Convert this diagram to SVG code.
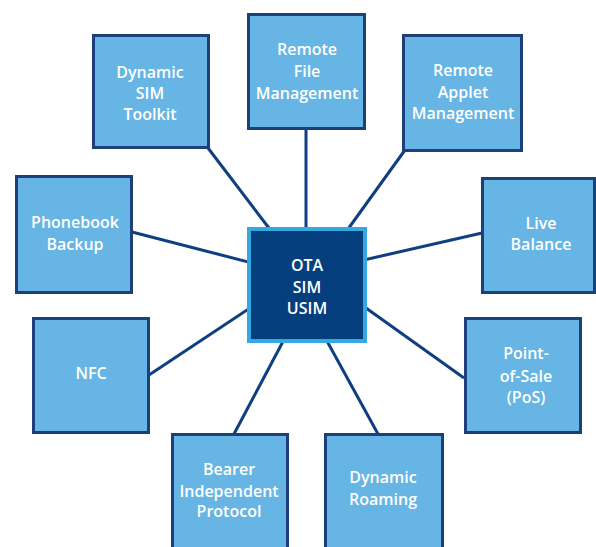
<svg xmlns="http://www.w3.org/2000/svg" width="596" height="547" viewBox="0 0 596 547">
<style>
.node rect{fill:#66b5e4;stroke:#1d3f7c;stroke-width:3}
.node text,.center text{fill:#ffffff;font-family:"Open Sans","Liberation Sans",sans-serif;font-weight:600;font-size:16px;text-anchor:middle}
.center rect{fill:#053f7e;stroke:#35a8e0;stroke-width:4}
.conn line{stroke:#0f3f80;stroke-width:3;fill:none}
</style>
<rect width="596" height="547" fill="#ffffff"/>
<g id="connectors" class="conn">
<line x1="306" y1="129" x2="306" y2="240"/>
<line x1="208" y1="148" x2="275" y2="236"/>
<line x1="405" y1="150" x2="343" y2="236"/>
<line x1="132" y1="232" x2="260" y2="265"/>
<line x1="482" y1="233" x2="355" y2="262"/>
<line x1="149" y1="375" x2="262" y2="300"/>
<line x1="464" y1="378" x2="352" y2="298"/>
<line x1="234" y1="434" x2="288" y2="332"/>
<line x1="378" y1="434" x2="322" y2="332"/>
</g>
<g id="remote-file" class="node"><rect x="248.5" y="14.5" width="116" height="114"/><text x="307" y="55">Remote</text><text x="307" y="77">File</text><text x="307" y="99">Management</text></g>
<g id="dynamic-sim-toolkit" class="node"><rect x="93.5" y="35.5" width="115" height="112"/><text x="150" y="78">Dynamic</text><text x="150" y="99">SIM</text><text x="150" y="120">Toolkit</text></g>
<g id="remote-applet" class="node"><rect x="403.5" y="35.5" width="118" height="115"/><text x="463" y="76">Remote</text><text x="463" y="98">Applet</text><text x="463" y="119">Management</text></g>
<g id="phonebook-backup" class="node"><rect x="16.5" y="176.5" width="115" height="116"/><text x="75" y="228">Phonebook</text><text x="75" y="250">Backup</text></g>
<g id="live-balance" class="node"><rect x="482.5" y="178.5" width="112" height="114"/><text x="541" y="229">Live</text><text x="541" y="250">Balance</text></g>
<g id="nfc" class="node"><rect x="33.5" y="318.5" width="115" height="114"/><text x="91" y="379">NFC</text></g>
<g id="point-of-sale" class="node"><rect x="465.5" y="318.5" width="115" height="114"/><text x="526" y="359">Point-</text><text x="526" y="382">of-Sale</text><text x="526" y="403">(PoS)</text></g>
<g id="bearer-independent-protocol" class="node"><rect x="172.5" y="434.5" width="115" height="125"/><text x="229" y="475">Bearer</text><text x="229" y="497">Independent</text><text x="229" y="517">Protocol</text></g>
<g id="dynamic-roaming" class="node"><rect x="325.5" y="434.5" width="117" height="125"/><text x="383" y="483">Dynamic</text><text x="383" y="505">Roaming</text></g>
<g id="ota-sim-usim" class="center"><rect x="249" y="229" width="116" height="112"/><text x="307" y="271">OTA</text><text x="307" y="293">SIM</text><text x="307" y="314">USIM</text></g>
</svg>
